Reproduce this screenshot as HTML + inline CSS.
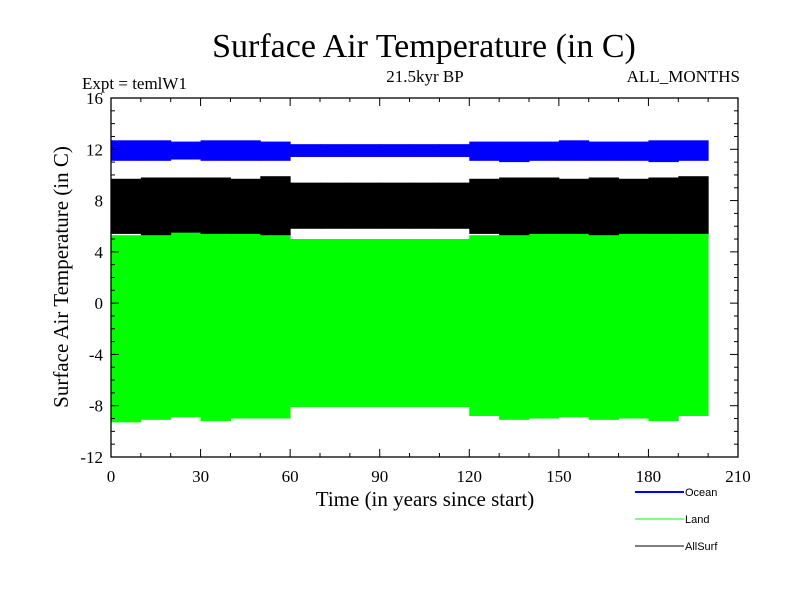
<!DOCTYPE html>
<html><head><meta charset="utf-8"><style>
body{margin:0;background:#fff}
svg text{font-family:"Liberation Serif",serif;fill:#000}
</style></head><body>
<svg id="chart" width="800" height="600" xmlns="http://www.w3.org/2000/svg">
<text x="424" y="57" font-size="34" text-anchor="middle">Surface Air Temperature (in C)</text>
<text x="82" y="89" font-size="17">Expt = temlW1</text>
<text x="425" y="82" font-size="17" text-anchor="middle">21.5kyr BP</text>
<text x="740" y="82" font-size="17" text-anchor="end">ALL_MONTHS</text>
<g id="series"></g>
<g id="axes"></g>
<text x="425" y="506" font-size="21" text-anchor="middle">Time (in years since start)</text>
<text transform="translate(68,277) rotate(-90)" font-size="21" text-anchor="middle">Surface Air Temperature (in C)</text>
<g>
<line x1="635" y1="492" x2="684" y2="492" stroke="#0000ff" stroke-width="2"/>
<text x="685" y="496" font-size="11" style="font-family:'Liberation Sans',sans-serif">Ocean</text>
<line x1="635" y1="519" x2="684" y2="519" stroke="#00ff00" stroke-width="1"/>
<text x="685" y="523" font-size="11" style="font-family:'Liberation Sans',sans-serif">Land</text>
<line x1="635" y1="546" x2="684" y2="546" stroke="#000" stroke-width="1"/>
<text x="685" y="550" font-size="11" style="font-family:'Liberation Sans',sans-serif">AllSurf</text>
</g>
</svg>
<script>
const binStarts=[0,10,20,30,40,50,60,70,80,90,100,110,120,130,140,150,160,170,180,190];
const oceanMax=[12.7,12.7,12.6,12.7,12.7,12.6,12.4,12.4,12.4,12.4,12.4,12.4,12.6,12.6,12.6,12.7,12.6,12.6,12.7,12.7];
const oceanMin=[11.1,11.1,11.2,11.1,11.1,11.1,11.4,11.4,11.4,11.4,11.4,11.4,11.1,11.0,11.1,11.1,11.1,11.1,11.0,11.1];
const allMax=[9.7,9.8,9.8,9.8,9.7,9.9,9.4,9.4,9.4,9.4,9.4,9.4,9.7,9.8,9.8,9.7,9.8,9.7,9.8,9.9];
const allMin=[5.4,5.3,5.5,5.4,5.4,5.3,5.8,5.8,5.8,5.8,5.8,5.8,5.4,5.3,5.4,5.4,5.3,5.4,5.4,5.4];
const landMax=[5.3,5.4,5.6,5.4,5.6,5.5,5.0,5.0,5.0,5.0,5.0,5.0,5.3,5.5,5.5,5.4,5.5,5.4,5.5,5.6];
const landMin=[-9.3,-9.1,-8.9,-9.2,-9.0,-9.0,-8.1,-8.1,-8.1,-8.1,-8.1,-8.1,-8.8,-9.1,-9.0,-8.9,-9.1,-9.0,-9.2,-8.8];
const xTicks=[0,30,60,90,120,150,180,210];
const yTicks=[16,12,8,4,0,-4,-8,-12];
const L=111,R=738,T=98,B=457;
const xs=v=>L+(v/210)*(R-L);
const ys=v=>T+(16-v)/28*(B-T);
const NS="http://www.w3.org/2000/svg";
const sg=document.getElementById('series');
function band(mx,mn,color,name){
  binStarts.forEach((s,i)=>{
    const e=Math.min(s+10,200);
    const r=document.createElementNS(NS,'rect');
    r.setAttribute('x',xs(s));r.setAttribute('width',xs(e)-xs(s)+0.5);
    r.setAttribute('y',ys(mx[i]));r.setAttribute('height',ys(mn[i])-ys(mx[i]));
    r.setAttribute('fill',color);
    
    
    sg.appendChild(r);
  });
}
band(landMax,landMin,'#00ff00','land');
band(allMax,allMin,'#000000','allsurf');
band(oceanMax,oceanMin,'#0000ff','ocean');
const ax=document.getElementById('axes');
function ln(x1,y1,x2,y2){const l=document.createElementNS(NS,'line');l.setAttribute('x1',x1);l.setAttribute('y1',y1);l.setAttribute('x2',x2);l.setAttribute('y2',y2);l.setAttribute('stroke','#000');l.setAttribute('stroke-width','1');ax.appendChild(l);return l;}
const box=document.createElementNS(NS,'rect');
box.setAttribute('x',L);box.setAttribute('y',T);box.setAttribute('width',R-L);box.setAttribute('height',B-T);
box.setAttribute('fill','none');box.setAttribute('stroke','#000');box.setAttribute('stroke-width','1.3');


ax.appendChild(box);
for(let v=0;v<=210;v+=10){const len=v%30===0?8:4;ln(xs(v),B,xs(v),B-len);ln(xs(v),T,xs(v),T+len);}
for(let v=-12;v<=16;v+=1){const len=v%4===0?8:4;ln(L,ys(v),L+len,ys(v));ln(R,ys(v),R-len,ys(v));}
xTicks.forEach(v=>{const t=document.createElementNS(NS,'text');t.setAttribute('x',xs(v));t.setAttribute('y',B+25);t.setAttribute('font-size','17');t.setAttribute('text-anchor','middle');t.textContent=v;


ax.appendChild(t);});
yTicks.forEach(v=>{const t=document.createElementNS(NS,'text');t.setAttribute('x',L-8);t.setAttribute('y',ys(v)+6);t.setAttribute('font-size','17');t.setAttribute('text-anchor','end');t.textContent=v;


ax.appendChild(t);});
</script>
</body></html>
